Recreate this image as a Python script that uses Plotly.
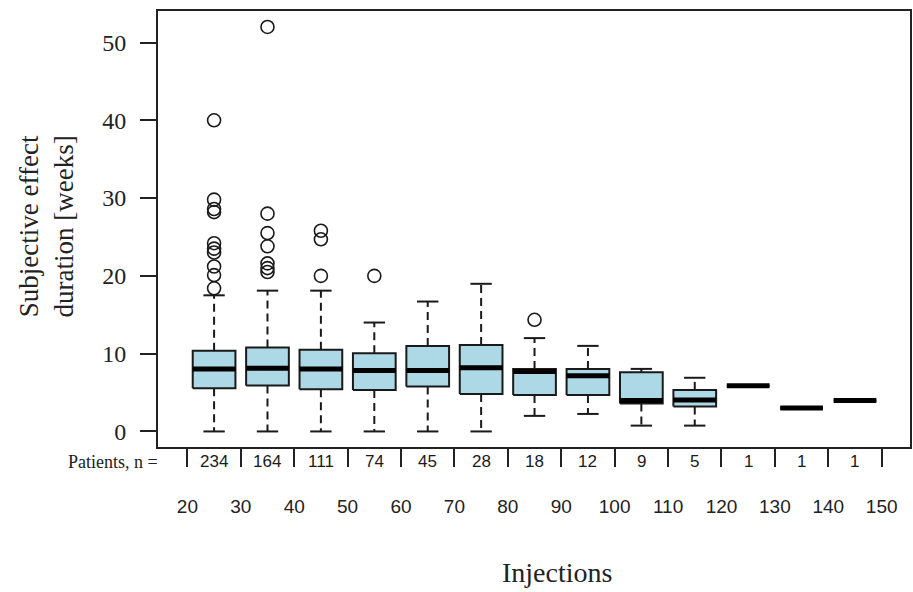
import plotly.graph_objects as go

# ---- data ----
injection_mid = [25, 35, 45, 55, 65, 75, 85, 95, 105, 115, 125, 135, 145]
patients_n = [234, 164, 111, 74, 45, 28, 18, 12, 9, 5, 1, 1, 1]
q1 = [5.56, 5.9, 5.43, 5.34, 5.77, 4.8, 4.7, 4.7, 3.6, 3.2, 5.86, 3.0, 3.97]
median = [8.04, 8.13, 8.04, 7.83, 7.83, 8.2, 7.72, 7.17, 3.97, 4.05, 5.86, 3.0, 3.97]
q3 = [10.36, 10.79, 10.49, 10.06, 11.0, 11.1, 8.04, 8.04, 7.6, 5.34, 5.86, 3.0, 3.97]
whisker_low = [0, 0, 0, 0, 0, 0, 2.0, 2.25, 0.75, 0.75, 5.86, 3.0, 3.97]
whisker_high = [17.5, 18.1, 18.1, 14.0, 16.7, 18.98, 12.0, 11.0, 8.04, 6.9, 5.86, 3.0, 3.97]

outlier_group = [25, 25, 25, 25, 25, 25, 25, 25, 25, 25,
                 35, 35, 35, 35, 35, 35, 35,
                 45, 45, 45,
                 55,
                 85]
outlier_value = [40.0, 29.8, 28.6, 28.2, 24.2, 23.5, 23.0, 21.2, 20.1, 18.4,
                 52.0, 28.0, 25.5, 23.8, 21.6, 21.0, 20.5,
                 25.8, 24.7, 20.0,
                 20.0,
                 14.35]

x_tick_vals = [20, 30, 40, 50, 60, 70, 80, 90, 100, 110, 120, 130, 140, 150]
y_tick_vals = [0, 10, 20, 30, 40, 50]

BOX_HALF = 4.0
CAP_HALF = 2.0

# ---- build geometry from the data ----
bx, by = [], []
mx, my = [], []
wx, wy = [], []
cx, cy = [], []
for x, a, m, b, lo, hi in zip(injection_mid, q1, median, q3, whisker_low, whisker_high):
    bx += [x - BOX_HALF, x + BOX_HALF, x + BOX_HALF, x - BOX_HALF, x - BOX_HALF, None]
    by += [a, a, b, b, a, None]
    mx += [x - BOX_HALF, x + BOX_HALF, None]
    my += [m, m, None]
    if hi > b:
        wx += [x, x, None]
        wy += [b, hi, None]
        cx += [x - CAP_HALF, x + CAP_HALF, None]
        cy += [hi, hi, None]
    if lo < a:
        wx += [x, x, None]
        wy += [a, lo, None]
        cx += [x - CAP_HALF, x + CAP_HALF, None]
        cy += [lo, lo, None]

fig = go.Figure()
fig.add_trace(go.Scatter(x=wx, y=wy, mode="lines",
                         line=dict(color="#1a1a1a", width=2, dash="8px,5px"),
                         hoverinfo="skip"))
fig.add_trace(go.Scatter(x=cx, y=cy, mode="lines",
                         line=dict(color="#1a1a1a", width=2), hoverinfo="skip"))
fig.add_trace(go.Scatter(x=bx, y=by, mode="lines", fill="toself",
                         fillcolor="#ADD8E6",
                         line=dict(color="#1a1a1a", width=2), hoverinfo="skip"))
fig.add_trace(go.Scatter(x=mx, y=my, mode="lines",
                         line=dict(color="black", width=5), hoverinfo="skip"))
fig.add_trace(go.Scatter(x=outlier_group, y=outlier_value, mode="markers",
                         marker=dict(symbol="circle-open", size=13,
                                     line=dict(color="#1a1a1a", width=1.6),
                                     color="#1a1a1a"),
                         hoverinfo="skip"))

# patient counts row
for x, n in zip(injection_mid, patients_n):
    fig.add_annotation(x=x, xref="x", y=-0.034, yref="paper", text=str(n),
                       showarrow=False, yanchor="middle",
                       font=dict(family="Liberation Sans, Arial", size=17, color="#1a1a1a"))
fig.add_annotation(x=0.003, xref="paper", y=-0.034, yref="paper",
                   text="Patients, n =", showarrow=False,
                   xanchor="right", yanchor="middle",
                   font=dict(family="Liberation Serif, Times New Roman", size=18, color="#222"))
fig.add_annotation(x=0.5305, xref="paper", y=-0.287, yref="paper",
                   text="Injections", showarrow=False,
                   xanchor="center", yanchor="middle",
                   font=dict(family="Liberation Serif, Times New Roman", size=28, color="#222"))
fig.add_annotation(x=-0.148, xref="paper", y=0.505, yref="paper",
                   text="Subjective effect<br>duration [weeks]", showarrow=False,
                   textangle=-90, xanchor="center", yanchor="middle",
                   font=dict(family="Liberation Serif, Times New Roman", size=27, color="#222"))

fig.update_layout(
    width=913, height=592,
    margin=dict(l=158, r=1, t=11, b=145),
    paper_bgcolor="white", plot_bgcolor="white",
    showlegend=False,
    xaxis=dict(range=[14.5, 155.3], tickvals=x_tick_vals,
               ticktext=[str(v) for v in x_tick_vals],
               ticks="outside", ticklen=18, tickwidth=1.5, tickcolor="#222",
               showline=True, linecolor="#222", linewidth=2, mirror=True,
               showgrid=False, zeroline=False,
               ticklabelstandoff=23,
               tickfont=dict(family="Liberation Sans, Arial", size=19, color="#222")),
    yaxis=dict(range=[-2.0, 54.05], tickvals=y_tick_vals,
               ticks="outside", ticklen=16, tickwidth=1.5, tickcolor="#222",
               showline=True, linecolor="#222", linewidth=2, mirror=True,
               showgrid=False, zeroline=False,
               ticklabelstandoff=9,
               tickfont=dict(family="Liberation Serif, Times New Roman", size=24, color="#222")),
)

fig.write_html("out.html")
